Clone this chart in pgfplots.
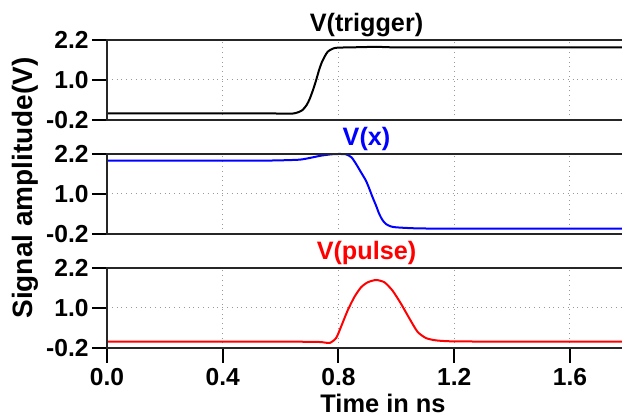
\documentclass[border=0pt]{standalone}
\usepackage{fontspec}
\setmainfont{Liberation Sans}
\usepackage{pgfplots}
\pgfplotsset{compat=1.18}

\pgfplotsset{
  panel/.style={
    scale only axis,
    width=257.5pt, height=40pt,
    anchor=south west,
    xmin=0, xmax=1.78,
    ymin=-0.2, ymax=2.2,
    xtick={0,0.4,0.8,1.2,1.6},
    ytick={-0.2,1.0,2.2},
    yticklabels={-0.2,1.0,2.2},
    ytick pos=left,
    tick align=outside,
    major tick length=7.5pt,
    tick style={line width=1pt, black},
    axis line style={draw=none},
    grid=major,
    major grid style={dotted, gray!80, line width=0.5pt},
    clip=false,
    ticklabel style={font=\fontsize{12.3}{14}\selectfont\bfseries},
    yticklabel style={inner sep=1.5pt},
    every axis plot/.append style={line width=1pt, smooth, tension=0.4},
    after end axis/.code={
      \draw[line width=1pt, black!85]
        (rel axis cs:1,1) -- (rel axis cs:0,1) -- (rel axis cs:0,0) -- (rel axis cs:1,0);
    },
  },
  notick x/.style={xticklabels={}, xtick style={draw=none}},
}
\tikzset{ptitle/.style={anchor=base, yshift=4pt, xshift=1pt,
  font=\fontsize{12.6}{14}\selectfont\bfseries}}

\begin{document}
\begin{tikzpicture}

% V(trigger)
\begin{axis}[panel, notick x, at={(53.5pt,148.5pt)}]
\addplot[black] coordinates {
  (0,0.0) (0.3,0.0) (0.55,0.0) (0.6,-0.01) (0.64,-0.01) (0.66,0.03)
  (0.676,0.1) (0.69,0.25) (0.70,0.42) (0.712,0.7) (0.723,1.0) (0.733,1.3)
  (0.742,1.52) (0.752,1.7) (0.763,1.85) (0.78,1.94) (0.797,1.97)
  (0.85,1.98) (0.9,1.99) (0.95,1.99) (1.0,1.98) (1.3,1.98) (1.78,1.98)
};
\node[ptitle, black] at (rel axis cs:0.5,1) {V(trigger)};
\end{axis}

% V(x)
\begin{axis}[panel, notick x, at={(53.5pt,91.5pt)}]
\addplot[blue] coordinates {
  (0,2.0) (0.5,2.0) (0.6,2.01) (0.666,2.03) (0.7,2.08) (0.74,2.15)
  (0.775,2.19) (0.80,2.2) (0.826,2.19) (0.845,2.1) (0.861,1.9) (0.878,1.65)
  (0.895,1.4) (0.907,1.15) (0.918,0.9) (0.93,0.65) (0.941,0.4) (0.952,0.22)
  (0.964,0.1) (0.98,0.03) (0.999,0.0) (1.068,-0.03) (1.2,-0.04) (1.78,-0.04)
};
\node[ptitle, blue] at (rel axis cs:0.5,1) {V(x)};
\end{axis}

% V(pulse)
\begin{axis}[panel, at={(53.5pt,34.5pt)},
  xtick pos=bottom,
  xticklabels={0.0,0.4,0.8,1.2,1.6},
  xticklabel style={inner sep=2.5pt}]
\addplot[red] coordinates {
  (0,-0.01) (0.6,-0.01) (0.734,-0.02) (0.769,-0.05) (0.792,0.1) (0.809,0.44)
  (0.832,0.93) (0.855,1.33) (0.878,1.62) (0.901,1.77) (0.93,1.84)
  (0.959,1.77) (0.987,1.52) (1.016,1.13) (1.045,0.69) (1.073,0.29)
  (1.102,0.10) (1.136,0.03) (1.194,0.0) (1.4,-0.01) (1.78,-0.01)
};
\node[ptitle, red] at (rel axis cs:0.5,1) {V(pulse)};
\end{axis}

% shared labels
\node[rotate=90, font=\fontsize{14}{16}\selectfont\bfseries] at (12.5pt,114.5pt)
  {Signal amplitude(V)};
\node[anchor=base, font=\fontsize{12.7}{14}\selectfont\bfseries] at (191.5pt,2pt)
  {Time in ns};

\pgfresetboundingbox
\useasboundingbox (0,0) rectangle (311pt,208.5pt);
\end{tikzpicture}
\end{document}
